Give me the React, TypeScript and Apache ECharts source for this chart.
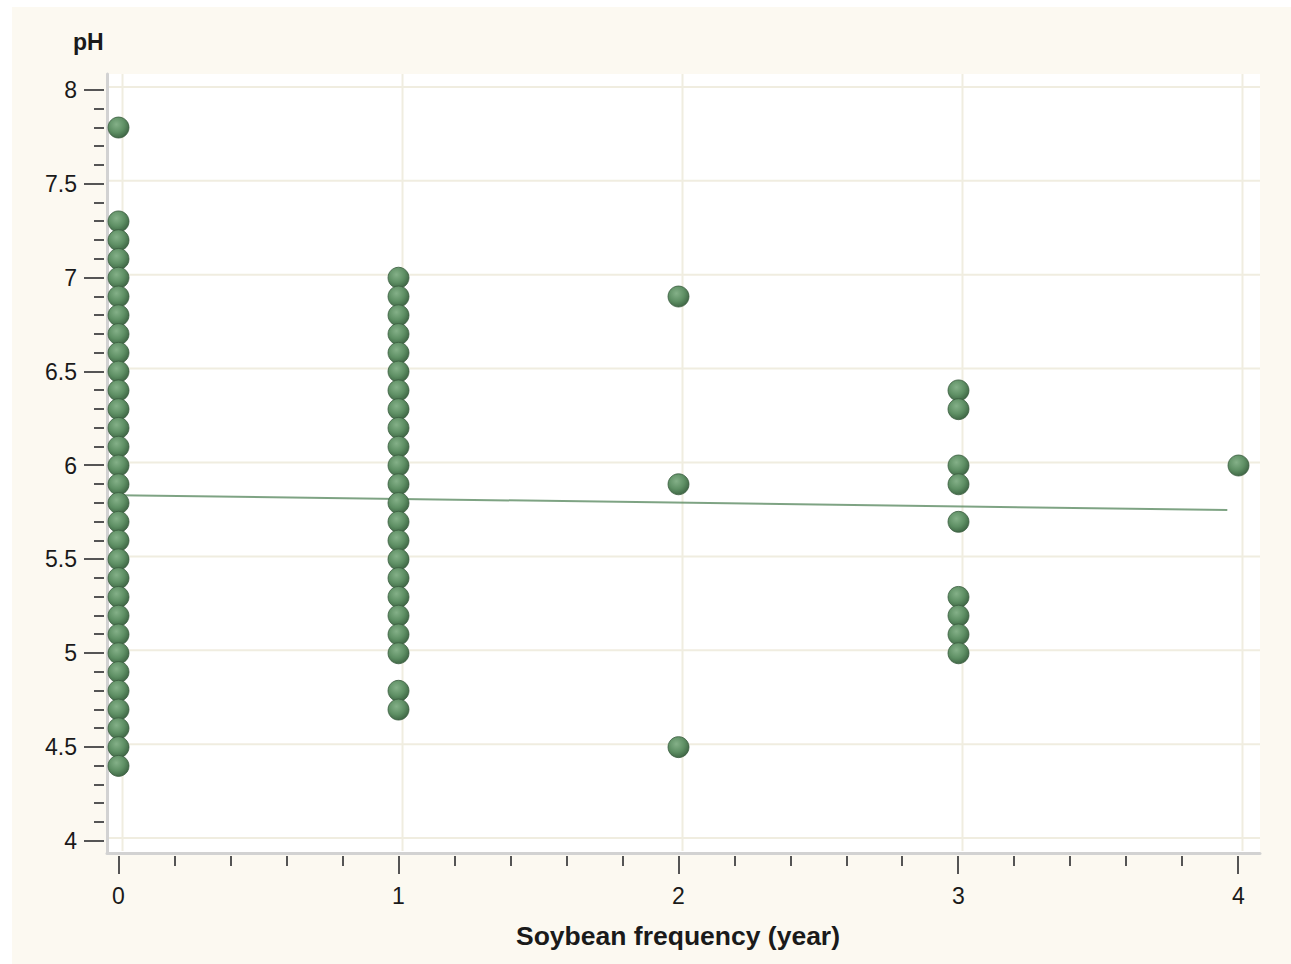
import React, { useEffect, useRef } from "react";
import * as echarts from "echarts";

// pH values, grouped by soybean frequency (year)
const phAt0 = [7.8, 7.3, 7.2, 7.1, 7.0, 6.9, 6.8, 6.7, 6.6, 6.5, 6.4, 6.3, 6.2, 6.1, 6.0, 5.9, 5.8, 5.7, 5.6, 5.5, 5.4, 5.3, 5.2, 5.1, 5.0, 4.9, 4.8, 4.7, 4.6, 4.5, 4.4];
const phAt1 = [7.0, 6.9, 6.8, 6.7, 6.6, 6.5, 6.4, 6.3, 6.2, 6.1, 6.0, 5.9, 5.8, 5.7, 5.6, 5.5, 5.4, 5.3, 5.2, 5.1, 5.0, 4.8, 4.7];
const phAt2 = [6.9, 5.9, 4.5];
const phAt3 = [6.4, 6.3, 6.0, 5.9, 5.7, 5.3, 5.2, 5.1, 5.0];
const phAt4 = [6.0];
const frequencies = [0, 1, 2, 3, 4];
const phGroups = [phAt0, phAt1, phAt2, phAt3, phAt4];

// fitted line end points [frequency, pH]
const fitStart = [0, 5.842];
const fitEnd = [3.96, 5.763];

const xTickValues = [0, 1, 2, 3, 4];
const yTickValues = [4, 4.5, 5, 5.5, 6, 6.5, 7, 7.5, 8];
const xMinorStep = 0.2;
const yMinorStep = 0.1;

const xTitle = "Soybean frequency (year)";
const yTitle = "pH";

const FONT = "'Liberation Sans', Arial, sans-serif";
const TICK_COLOR = "#555555";
const GRID_COLOR = "#f0ede0";

export default function App() {
  const ref = useRef<HTMLDivElement>(null);

  useEffect(() => {
    if (!ref.current) return;
    const chart = echarts.init(ref.current, undefined, { renderer: "svg" });

    const points: number[][] = [];
    frequencies.forEach((f, i) => {
      phGroups[i].forEach((v) => points.push([f, v]));
    });

    // tick marks (major = 1, minor = 0)
    const xTicks: number[][] = [];
    for (let i = 0; i < xTickValues.length; i++) {
      xTicks.push([xTickValues[i], 1]);
      if (i < xTickValues.length - 1) {
        for (let k = 1; k < 5; k++) xTicks.push([+(xTickValues[i] + k * xMinorStep).toFixed(2), 0]);
      }
    }
    const yTicks: number[][] = [];
    for (let i = 0; i < yTickValues.length; i++) {
      yTicks.push([yTickValues[i], 1]);
      if (i < yTickValues.length - 1) {
        for (let k = 1; k < 5; k++) yTicks.push([+(yTickValues[i] + k * yMinorStep).toFixed(2), 0]);
      }
    }

    const dotColor = new echarts.graphic.RadialGradient(0.4, 0.35, 0.7, [
      { offset: 0, color: "#84b088" },
      { offset: 0.55, color: "#5e8f64" },
      { offset: 1, color: "#3b6241" },
    ]);

    const option: any = {
      animation: false,
      grid: [
        { left: 107, right: 31, top: 74, bottom: 111, show: true, backgroundColor: "#ffffff", borderWidth: 0 },
        { left: 118.5, right: 52.5, top: 90, bottom: 123, show: false },
      ],
      xAxis: [
        {
          type: "value",
          gridIndex: 0,
          min: -0.0411,
          max: 4.0768,
          axisLine: { show: true, onZero: false, lineStyle: { color: "#d2d2d2", width: 3 } },
          axisTick: { show: false },
          axisLabel: { show: false },
          splitLine: { show: false },
        },
        {
          type: "value",
          gridIndex: 1,
          min: 0,
          max: 4,
          interval: 1,
          offset: 19,
          axisLine: { show: false },
          axisTick: { show: false },
          axisLabel: { margin: 24, fontSize: 23, color: "#1a1a1a", fontFamily: FONT },
          splitLine: { show: false },
        },
      ],
      yAxis: [
        {
          type: "value",
          gridIndex: 0,
          min: 3.9361,
          max: 8.0852,
          axisLine: { show: true, onZero: false, lineStyle: { color: "#d2d2d2", width: 3 } },
          axisTick: { show: false },
          axisLabel: { show: false },
          splitLine: { show: false },
        },
        {
          type: "value",
          gridIndex: 1,
          min: 4,
          max: 8,
          interval: 0.5,
          offset: 14.5,
          axisLine: { show: false },
          axisTick: { show: false },
          axisLabel: { margin: 27, fontSize: 23, color: "#1a1a1a", fontFamily: FONT },
          splitLine: { show: false },
        },
      ],
      graphic: [
        {
          type: "text",
          left: 73,
          top: 30,
          style: { text: yTitle, fontSize: 23, fontWeight: "bold", fill: "#1a1a1a", fontFamily: FONT },
        },
        {
          type: "text",
          x: 678,
          y: 936,
          style: {
            text: xTitle,
            fontSize: 26.5,
            fontWeight: "bold",
            fill: "#1a1a1a",
            fontFamily: FONT,
            textAlign: "center",
            textVerticalAlign: "middle",
          },
        },
      ],
      series: [
        {
          // vertical grid lines
          type: "custom",
          xAxisIndex: 0,
          yAxisIndex: 0,
          silent: true,
          clip: false,
          z: 1,
          data: xTickValues.map((v) => [v, yTickValues[0]]),
          renderItem: (params: any, api: any) => {
            const cs = params.coordSys;
            const x = api.coord([api.value(0), api.value(1)])[0] + 4;
            return {
              type: "line",
              shape: { x1: x, y1: cs.y, x2: x, y2: cs.y + cs.height - 2 },
              style: { stroke: GRID_COLOR, lineWidth: 2 },
            };
          },
        },
        {
          // horizontal grid lines
          type: "custom",
          xAxisIndex: 0,
          yAxisIndex: 0,
          silent: true,
          clip: false,
          z: 1,
          data: yTickValues.map((v) => [xTickValues[0], v]),
          renderItem: (params: any, api: any) => {
            const cs = params.coordSys;
            const y = api.coord([api.value(0), api.value(1)])[1] - 3;
            return {
              type: "line",
              shape: { x1: cs.x + 2, y1: y, x2: cs.x + cs.width, y2: y },
              style: { stroke: GRID_COLOR, lineWidth: 2 },
            };
          },
        },
        {
          // x-axis tick marks
          type: "custom",
          xAxisIndex: 0,
          yAxisIndex: 0,
          silent: true,
          clip: false,
          z: 5,
          data: xTicks.map((t) => [t[0], yTickValues[0], t[1]]),
          renderItem: (params: any, api: any) => {
            const cs = params.coordSys;
            const x = Math.round(api.coord([api.value(0), api.value(1)])[0]);
            const y0 = cs.y + cs.height + 3;
            const len = api.value(2) ? 18 : 10;
            return {
              type: "line",
              shape: { x1: x, y1: y0, x2: x, y2: y0 + len },
              style: { stroke: TICK_COLOR, lineWidth: 2 },
            };
          },
        },
        {
          // y-axis tick marks
          type: "custom",
          xAxisIndex: 0,
          yAxisIndex: 0,
          silent: true,
          clip: false,
          z: 5,
          data: yTicks.map((t) => [xTickValues[0], t[0], t[1]]),
          renderItem: (params: any, api: any) => {
            const cs = params.coordSys;
            const y = Math.round(api.coord([api.value(0), api.value(1)])[1]);
            const x1 = cs.x - 3;
            const len = api.value(2) ? 20 : 10;
            return {
              type: "line",
              shape: { x1: x1 - len, y1: y, x2: x1, y2: y },
              style: { stroke: TICK_COLOR, lineWidth: 2 },
            };
          },
        },
        {
          type: "line",
          xAxisIndex: 0,
          yAxisIndex: 0,
          z: 2,
          symbol: "none",
          data: [fitStart, fitEnd],
          lineStyle: { color: "#5e8c64", width: 2, opacity: 0.8 },
          silent: true,
        },
        {
          type: "scatter",
          xAxisIndex: 0,
          yAxisIndex: 0,
          z: 3,
          symbol: "circle",
          symbolSize: 21,
          data: points,
          itemStyle: { color: dotColor, borderColor: "#3a5c3f", borderWidth: 0.8, opacity: 1 },
        },
      ],
    };

    chart.setOption(option);
    return () => chart.dispose();
  }, []);

  return (
    <div style={{ position: "absolute", left: 0, top: 0, width: 1291, height: 964, background: "#ffffff" }}>
      <div style={{ position: "absolute", left: 12, top: 7, width: 1279, height: 957, background: "#fcf9f1" }} />
      <div ref={ref} style={{ position: "absolute", left: 0, top: 0, width: 1291, height: 964 }} />
    </div>
  );
}
